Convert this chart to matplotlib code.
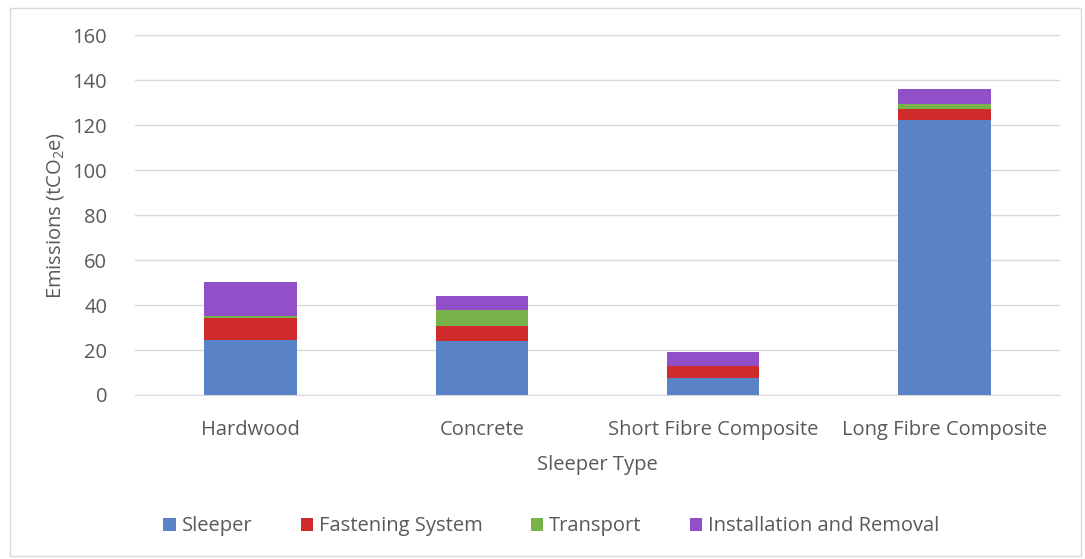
import matplotlib
matplotlib.use("Agg")
import matplotlib.pyplot as plt
import numpy as np
from matplotlib.patches import Rectangle

categories = ["Hardwood", "Concrete", "Short Fibre Composite", "Long Fibre Composite"]
sleeper = [24.4, 24.0, 7.7, 122.2]
fastening = [9.8, 6.7, 5.0, 4.9]
transport = [0.8, 7.1, 0.4, 2.5]
installation = [15.2, 6.2, 6.2, 6.3]

series = [
    ("Sleeper", sleeper, "#5A82C6"),
    ("Fastening System", fastening, "#D02B2B"),
    ("Transport", transport, "#77B34A"),
    ("Installation and Removal", installation, "#9150C8"),
]

TEXT = "#595959"
FS = 14.5


def main() -> None:
    plt.rcParams["font.family"] = ["Open Sans", "DejaVu Sans"]
    plt.rcParams["mathtext.default"] = "regular"

    fig = plt.figure(figsize=(10.85, 5.59), dpi=100)
    ax = fig.add_axes([0.1244, 0.2934, 0.8526, 0.6436])

    x = np.arange(len(categories))
    bottom = np.zeros(len(categories))
    for label, values, color in series:
        ax.bar(x, values, 0.4, bottom=bottom, color=color, label=label, zorder=3)
        bottom += np.array(values)

    ax.set_xlim(-0.5, 3.5)
    ax.set_ylim(0, 160)
    ax.set_yticks(np.arange(0, 161, 20))
    ax.set_xticks(x)
    ax.set_xticklabels(categories)
    ax.tick_params(axis="both", length=0, labelsize=FS, colors=TEXT)
    ax.tick_params(axis="x", pad=18)
    ax.tick_params(axis="y", pad=20)
    ax.grid(axis="y", color="#D9D9D9", linewidth=1, zorder=0)
    for side in ["top", "right", "left"]:
        ax.spines[side].set_visible(False)
    ax.spines["bottom"].set_color("#D9D9D9")

    ax.set_xlabel("Sleeper Type", fontsize=FS, color=TEXT, labelpad=11)
    ax.set_ylabel("Emissions (tCO$_2$e)", fontsize=FS, color=TEXT, labelpad=5)

    ax.legend(loc="center", bbox_to_anchor=(0.45, -0.365), ncol=4, frameon=False,
              fontsize=FS, labelcolor=TEXT, handlelength=0.6, handleheight=0.6,
              handletextpad=0.3, columnspacing=2.4)

    fig.patches.append(Rectangle((0.009, 0.005), 0.987, 0.98, transform=fig.transFigure,
                                 fill=False, edgecolor="#D9D9D9", linewidth=1))

    fig.savefig("out.png", dpi=100)
    plt.close(fig)


if __name__ == "__main__":
    main()
